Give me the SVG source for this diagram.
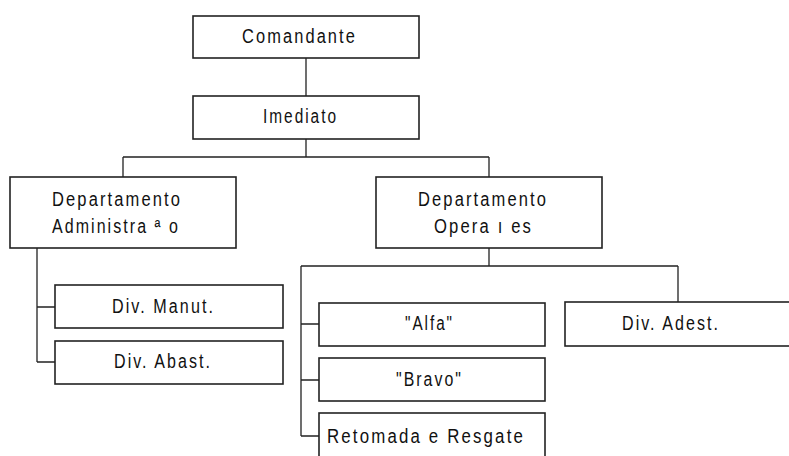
<svg xmlns="http://www.w3.org/2000/svg" width="789" height="456" viewBox="0 0 789 456">
<style>
.box{fill:#fff;stroke:#222;stroke-width:1.6}
.ln{fill:none;stroke:#222;stroke-width:1.3}
text{font-family:"Liberation Sans",Arial,sans-serif;font-size:19.5px;letter-spacing:2.5px;fill:#111}
</style>
<rect width="789" height="456" fill="#fff"/>
<g id="connectors">
<path class="ln" d="M306 58V96M306 139V157M123 157H489M123 157V177M489 157V177"/>
<path class="ln" d="M37 248V362M37 307H55M37 362H55"/>
<path class="ln" d="M489 248V266M301 266H678M678 266V302M301 266V436M301 324H319M301 380H319M301 436H319"/>
</g>
<g id="comandante"><rect class="box" x="193" y="16" width="226" height="42"/><text x="242" y="43" textLength="115" lengthAdjust="spacingAndGlyphs">Comandante</text></g>
<g id="imediato"><rect class="box" x="193" y="96" width="226" height="43"/><text x="263" y="123" textLength="75" lengthAdjust="spacingAndGlyphs">Imediato</text></g>
<g id="dep-admin"><rect class="box" x="10" y="177" width="226" height="71"/><text x="52" y="206" textLength="130" lengthAdjust="spacingAndGlyphs">Departamento</text><text x="52" y="233" textLength="128" lengthAdjust="spacingAndGlyphs">Administra ª o</text></g>
<g id="dep-oper"><rect class="box" x="376" y="177" width="226" height="71"/><text x="418" y="206" textLength="130" lengthAdjust="spacingAndGlyphs">Departamento</text><text x="434" y="233" textLength="99" lengthAdjust="spacingAndGlyphs">Opera  ı es</text></g>
<g id="div-manut"><rect class="box" x="55" y="285" width="228" height="43"/><text x="112" y="313" textLength="103" lengthAdjust="spacingAndGlyphs">Div. Manut.</text></g>
<g id="div-abast"><rect class="box" x="55" y="341" width="228" height="43"/><text x="114" y="368" textLength="98" lengthAdjust="spacingAndGlyphs">Div. Abast.</text></g>
<g id="alfa"><rect class="box" x="319" y="303" width="226" height="43"/><text x="405" y="330" textLength="49" lengthAdjust="spacingAndGlyphs">"Alfa"</text></g>
<g id="bravo"><rect class="box" x="319" y="358" width="226" height="43"/><text x="396" y="386" textLength="67" lengthAdjust="spacingAndGlyphs">"Bravo"</text></g>
<g id="retomada"><rect class="box" x="319" y="413" width="226" height="50"/><text x="327" y="443" textLength="198" lengthAdjust="spacingAndGlyphs">Retomada e Resgate</text></g>
<g id="div-adest"><rect class="box" x="565" y="302" width="230" height="44"/><text x="622" y="330" textLength="98" lengthAdjust="spacingAndGlyphs">Div. Adest.</text></g>
</svg>
